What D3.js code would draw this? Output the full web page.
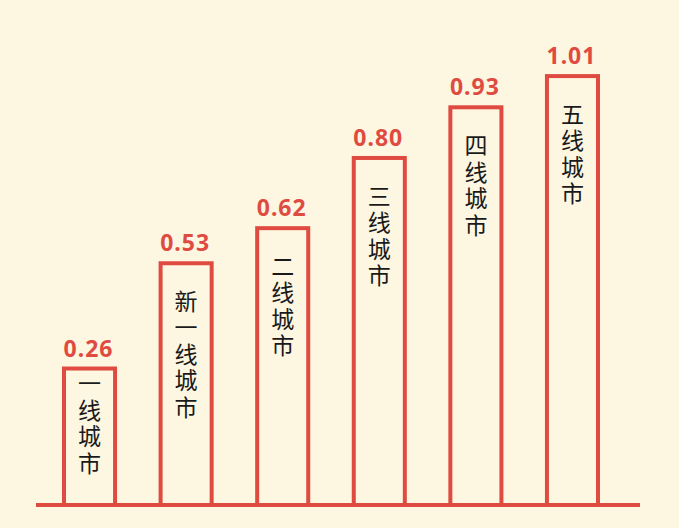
<!DOCTYPE html>
<html>
<head>
<meta charset="utf-8">
<script src="https://cdn.jsdelivr.net/npm/d3@7"></script>
<style>
  html, body { margin: 0; padding: 0; background: #fdf6e1; }
  svg { display: block; }
</style>
</head>
<body>
<div class="chart"></div>
<script>
// city tiers and their values
let cities = ["一线城市", "新一线城市", "二线城市", "三线城市", "四线城市", "五线城市"];
let values = [0.26, 0.53, 0.62, 0.80, 0.93, 1.01];
let valueLabels = ["0.26", "0.53", "0.62", "0.80", "0.93", "1.01"];

let svgWidth = 679;
let svgHeight = 528;
let red = "#df4b41";

let svg = d3.select(".chart")
  .append("svg")
  .attr("width", svgWidth)
  .attr("height", svgHeight);

svg.append("rect")
  .attr("width", svgWidth)
  .attr("height", svgHeight)
  .attr("fill", "#fdf6e1");

let baseY = 505;

let xScale = d3.scaleBand()
  .domain(cities)
  .range([62, 600])
  .paddingInner(0.43)
  .paddingOuter(0);

let yScale = d3.scaleLinear()
  .domain([-0.09, 1.1])
  .range([baseY, 41]);

let data = cities.map((c, i) => ({ city: c, value: values[i], label: valueLabels[i] }));

// bars
svg.selectAll(".bar")
  .data(data)
  .enter()
  .append("rect")
  .attr("class", "bar")
  .attr("x", d => xScale(d.city) + 2)
  .attr("y", d => yScale(d.value))
  .attr("width", xScale.bandwidth() - 4)
  .attr("height", d => baseY - yScale(d.value))
  .attr("fill", "#fdf6e1")
  .attr("stroke", red)
  .attr("stroke-width", 4);

// baseline
svg.append("line")
  .attr("x1", 36)
  .attr("x2", 640)
  .attr("y1", baseY)
  .attr("y2", baseY)
  .attr("stroke", red)
  .attr("stroke-width", 4);

// value labels
svg.selectAll(".val")
  .data(data)
  .enter()
  .append("text")
  .attr("class", "val")
  .attr("x", d => xScale(d.city) + xScale.bandwidth() / 2 - 1)
  .attr("y", d => yScale(d.value) - 12)
  .attr("text-anchor", "middle")
  .attr("font-family", "'Noto Sans', 'Open Sans', sans-serif")
  .attr("font-weight", "bold")
  .attr("font-size", "23px")
  .attr("letter-spacing", "1px")
  .attr("fill", red)
  .text(d => d.label);

// vertical city names inside the bars
let fontSize = 23;
let pitch = 26.5;
svg.selectAll(".city")
  .data(data)
  .enter()
  .append("text")
  .attr("class", "city")
  .attr("x", d => xScale(d.city) + xScale.bandwidth() / 2)
  .attr("y", d => {
    let top = yScale(d.value);
    let h = baseY - top;
    let n = d.city.length;
    return top + Math.min(38, (h - n * pitch) / 2) - fontSize / 2;
  })
  .style("writing-mode", "vertical-rl")
  .attr("text-anchor", "start")
  .attr("letter-spacing", (pitch - fontSize) + "px")
  .attr("font-family", "'Noto Sans CJK SC', sans-serif")
  .attr("font-size", fontSize + "px")
  .attr("fill", "#1a1a1a")
  .text(d => d.city);
</script>
</body>
</html>
